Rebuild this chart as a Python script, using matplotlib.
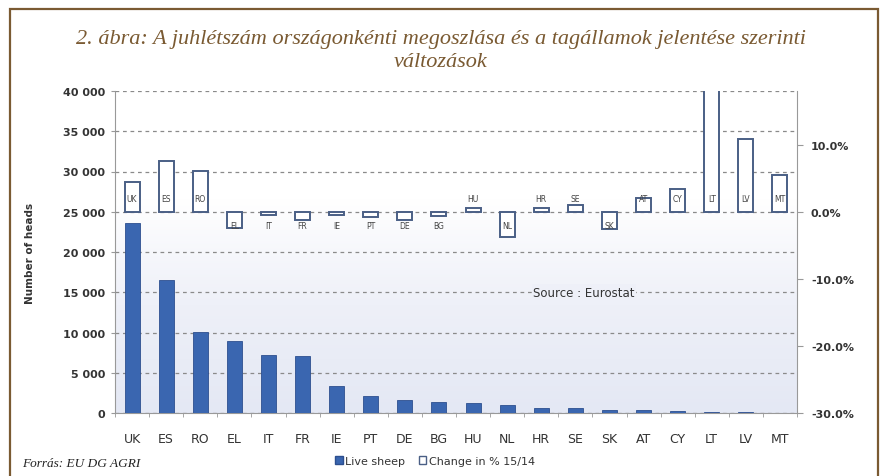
import matplotlib.pyplot as plt
import numpy as np
from matplotlib.patches import Rectangle, Patch
from matplotlib.colors import LinearSegmentedColormap

# Data
countries = ['UK', 'ES', 'RO', 'EL', 'IT', 'FR', 'IE', 'PT', 'DE', 'BG',
             'HU', 'NL', 'HR', 'SE', 'SK', 'AT', 'CY', 'LT', 'LV', 'MT']
live_sheep = [23600, 16500, 10100, 8900, 7150, 7050, 3400, 2050, 1650, 1350,
              1200, 1000, 650, 570, 400, 350, 300, 150, 80, 15]
change_pct = [4.5, 7.5, 6.1, -2.4, -0.5, -1.3, -0.5, -0.8, -1.3, -0.7,
              0.5, -3.7, 0.5, 1.0, -2.5, 2.0, 3.4, 25.0, 10.9, 5.5]

title = ('2. ábra: A juhlétszám országonkénti megoszlása és a tagállamok jelentése szerinti\n'
         'változások')
source_note = 'Forrás: EU DG AGRI'

BLUE = '#3a66b0'
EDGE = '#4a5f85'
BROWN = '#7a5a32'
TXT = '#333333'

fig = plt.figure(figsize=(8.81, 4.77), dpi=100)

# brown frame around the figure
fig.patches.append(Rectangle((10 / 881, -0.05), 868 / 881, 1 - 10 / 477 + 0.05,
                             transform=fig.transFigure, fill=False,
                             edgecolor=BROWN, linewidth=1.6))

fig.text(0.5, 1 - 51 / 477, title, ha='center', va='center', color=BROWN,
         fontsize=16, family='Liberation Serif', style='italic', linespacing=1.22)

ax = fig.add_axes([115 / 881, 1 - 414 / 477, 682 / 881, 322 / 477])
x = np.arange(len(countries))

# plot area gradient (white at top to light blue at bottom)
grad = np.linspace(0, 1, 256).reshape(-1, 1)
ax.imshow(grad, extent=[0, 1, 0, 1], transform=ax.transAxes, aspect='auto',
          cmap=LinearSegmentedColormap.from_list(
              'bg', ['#e4e8f4', '#eef0f8', '#ffffff', '#ffffff']),
          origin='lower', zorder=0)

ax.bar(x, live_sheep, width=0.44, color=BLUE, edgecolor='#2d4f8f', linewidth=0.6, zorder=3)
ax.set_xlim(-0.5, len(countries) - 0.5)
ax.set_ylim(0, 40000)
ax.set_yticks(range(0, 40001, 5000))
ax.set_yticklabels([f'{v:,}'.replace(',', ' ') for v in range(0, 40001, 5000)],
                   fontsize=8, fontweight='bold', color=TXT)
ax.yaxis.grid(True, linestyle=(0, (3, 3)), color='#8a8a8a', linewidth=0.9)
ax.set_axisbelow(False)
for gl in ax.get_ygridlines():
    gl.set_zorder(1)
ax.set_xticks(x)
ax.set_xticklabels(countries, fontsize=9, color=TXT)
ax.set_xticks(np.arange(-0.5, len(countries), 1), minor=True)
ax.tick_params(axis='x', which='major', length=0, pad=14)
ax.tick_params(axis='x', which='minor', length=3, color='#999999')
ax.tick_params(axis='y', length=3, color='#999999', pad=4)
ax.set_ylabel('Number of heads', fontsize=7.5, fontweight='bold', color=TXT, labelpad=20)
for side in ['top', 'right']:
    ax.spines[side].set_visible(False)
for side in ['left', 'bottom']:
    ax.spines[side].set_color('#999999')

ax.text(0.688, 0.375, 'Source : Eurostat', transform=ax.transAxes, ha='center',
        va='center', fontsize=8.5, color=TXT, zorder=4,
        bbox=dict(facecolor='#eef0f8', edgecolor='none', pad=1))

ax2 = ax.twinx()
ax2.bar(x, change_pct, width=0.44, facecolor='white', edgecolor=EDGE, linewidth=1.4, zorder=3)
ax2.set_ylim(-30, 18)
ax2.set_yticks([-30, -20, -10, 0, 10])
ax2.set_yticklabels([f'{v:.1f}%' for v in [-30, -20, -10, 0, 10]],
                    fontsize=8, fontweight='bold', color=TXT)
ax2.tick_params(axis='y', length=4, color='#999999', pad=6)
for side in ['top', 'left', 'bottom']:
    ax2.spines[side].set_visible(False)
ax2.spines['right'].set_color('#999999')

# country code labels at the base of each change bar
for xi, code, v in zip(x, countries, change_pct):
    yy = 2.0 if v >= 0 else -2.0
    ax2.text(xi, yy, code, ha='center', va='center', fontsize=5.5, color='#444444', zorder=5)

handles = [Patch(facecolor=BLUE, edgecolor='#2d4f8f'),
           Patch(facecolor='white', edgecolor=EDGE)]
fig.legend(handles, ['Live sheep', 'Change in % 15/14'], loc='center',
           bbox_to_anchor=(435 / 881, 1 - 462 / 477), ncol=2, frameon=False,
           fontsize=8, handlelength=0.7, handleheight=0.7, handletextpad=0.2,
           columnspacing=1.2, labelcolor=TXT)

fig.text(22 / 881, 1 - 464 / 477, source_note, ha='left', va='center', color='#222222',
         fontsize=9.5, family='Liberation Serif', style='italic')

fig.savefig('out.png', dpi=100)
